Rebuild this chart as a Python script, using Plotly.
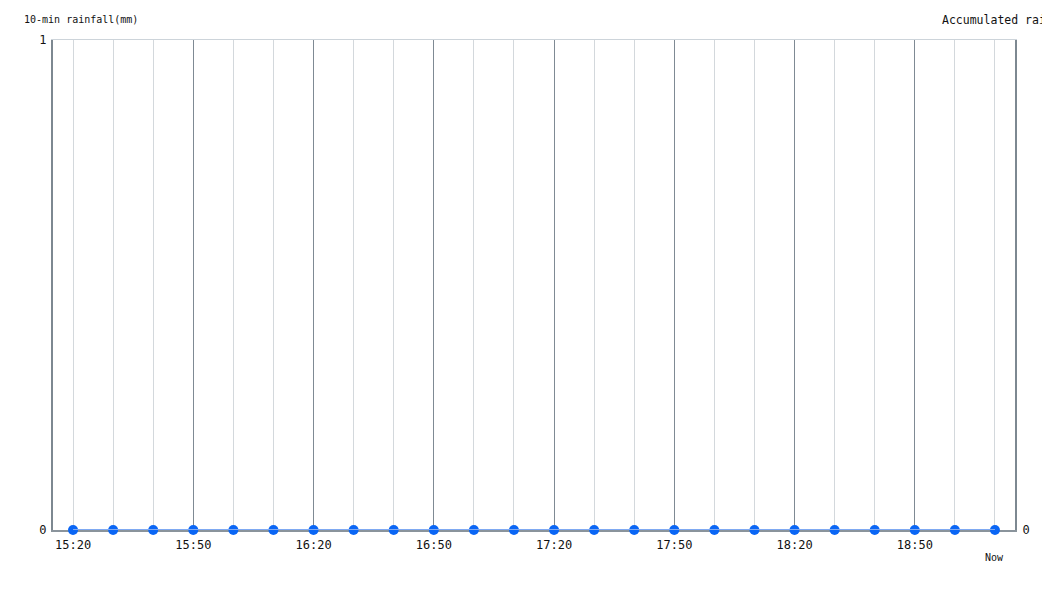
import plotly.graph_objects as go

times = ["15:20", "15:30", "15:40", "15:50", "16:00", "16:10", "16:20", "16:30",
         "16:40", "16:50", "17:00", "17:10", "17:20", "17:30", "17:40", "17:50",
         "18:00", "18:10", "18:20", "18:30", "18:40", "18:50", "19:00", "19:10"]
rain_10min = [0, 0, 0, 0, 0, 0, 0, 0, 0, 0, 0, 0, 0, 0, 0, 0, 0, 0, 0, 0, 0, 0, 0, 0]
rain_accum = [0, 0, 0, 0, 0, 0, 0, 0, 0, 0, 0, 0, 0, 0, 0, 0, 0, 0, 0, 0, 0, 0, 0, 0]
labeled_times = ["15:20", "15:50", "16:20", "16:50", "17:20", "17:50", "18:20", "18:50"]
major_times = ["15:50", "16:20", "16:50", "17:20", "17:50", "18:20", "18:50"]
now_label = "Now"

FONT = "DejaVu Sans Mono"
idx = list(range(len(times)))
ticktext = [t if t in labeled_times else "" for t in times]
major_idx = [times.index(t) for t in major_times]
xr = [-0.5, len(times) - 0.5]

fig = go.Figure()
fig.add_trace(go.Scatter(
    x=idx, y=rain_accum, xaxis="x2", yaxis="y2", mode="lines",
    line=dict(color="#7fa9f2", width=2), cliponaxis=False, hoverinfo="skip",
    showlegend=False))
fig.add_trace(go.Scatter(
    x=idx, y=rain_10min, mode="lines+markers",
    line=dict(color="#1f6ef5", width=1.2),
    marker=dict(color="#0a66f5", size=10, line=dict(width=0)),
    cliponaxis=False, showlegend=False))

fig.update_layout(
    width=1042, height=584,
    margin=dict(l=45, r=35, t=32, b=62),
    paper_bgcolor="white", plot_bgcolor="white",
    font=dict(family=FONT, size=12, color="#111"),
    xaxis=dict(range=xr, tickmode="array", tickvals=idx, ticktext=ticktext,
               showgrid=True, gridcolor="#d3d8dc", gridwidth=1,
               showline=True, linecolor="#8a949c", linewidth=2, layer="below traces",
               zeroline=False, ticks="", ticklabelstandoff=3,
               tickfont=dict(size=12), fixedrange=True),
    xaxis2=dict(range=xr, overlaying="x", side="top", tickmode="array",
                tickvals=major_idx, showticklabels=False, ticks="",
                showgrid=True, gridcolor="#7f8a94", gridwidth=1,
                showline=True, linecolor="#cdd4da", linewidth=1, zeroline=False),
    yaxis=dict(range=[0, 1], tickmode="array", tickvals=[0, 1], ticktext=["0", "1"],
               showgrid=False, zeroline=False, showline=True, linecolor="#7d8891",
               linewidth=2, ticks="", ticklabelstandoff=2, tickfont=dict(size=12)),
    yaxis2=dict(range=[0, 1], overlaying="y", side="right", tickmode="array",
                tickvals=[0], ticktext=["0"], showgrid=False, zeroline=False,
                showline=True, linecolor="#7d8891", linewidth=2, ticks="",
                ticklabelstandoff=3, tickfont=dict(size=12)),
    annotations=[
        dict(text="10-min rainfall(mm)", xref="paper", yref="paper",
             x=(14 - 45) / 962, y=1 + 20 / 490, xanchor="left", yanchor="middle",
             showarrow=False, font=dict(size=10, family=FONT, color="#111")),
        dict(text="Accumulated rainfall(mm)", xref="paper", yref="paper",
             x=(932 - 45) / 962, y=1 + 20 / 490, xanchor="left", yanchor="middle",
             showarrow=False, font=dict(size=11.5, family=FONT, color="#111")),
        dict(text=now_label, xref="x", yref="y", x=idx[-1], y=0,
             xanchor="center", yanchor="top", yshift=-20, showarrow=False,
             font=dict(size=10, family=FONT, color="#111")),
    ],
)

fig.write_html("out.html")
